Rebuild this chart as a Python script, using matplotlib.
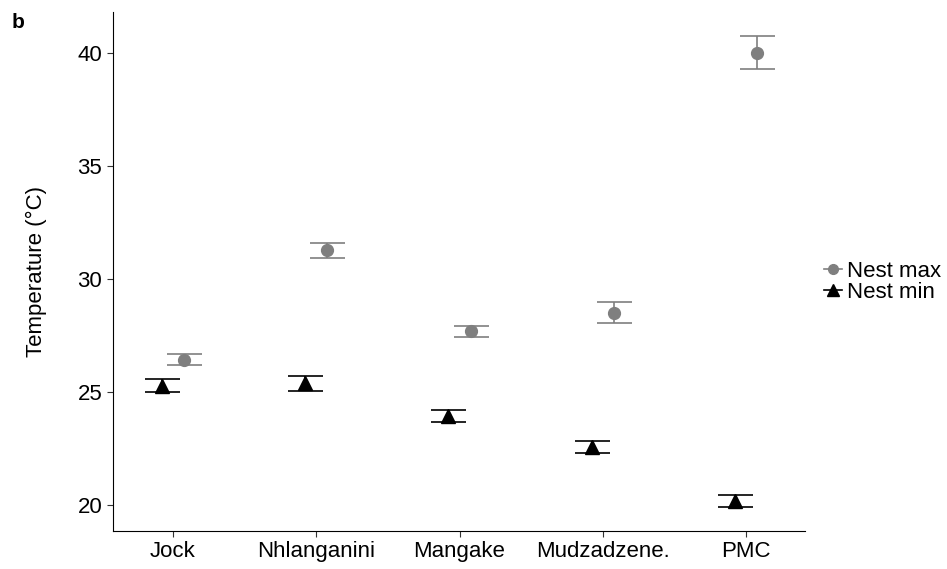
import numpy as np
import matplotlib.pyplot as plt
from matplotlib.lines import Line2D

plt.rcParams['font.family'] = ['Liberation Sans', 'DejaVu Sans']

# Data
sites = ['Jock', 'Nhlanganini', 'Mangake', 'Mudzadzene.', 'PMC']
max_mean = [26.4, 31.25, 27.67, 28.5, 40.0]
max_lo = [26.18, 30.9, 27.43, 28.04, 39.28]
max_hi = [26.67, 31.59, 27.92, 28.98, 40.72]
min_mean = [25.25, 25.38, 23.93, 22.56, 20.15]
min_lo = [25.0, 25.04, 23.66, 22.29, 19.9]
min_hi = [25.55, 25.71, 24.2, 22.83, 20.43]

def main():
    fig = plt.figure(figsize=(9.47, 5.69), dpi=100)
    ax = fig.add_axes([0.119, 0.067, 0.731, 0.912])

    x = np.arange(1, len(sites) + 1)
    dodge = 0.078
    grey = '#7f7f7f'

    mm = np.array(max_mean)
    ax.errorbar(x + dodge, mm, yerr=[mm - np.array(max_lo), np.array(max_hi) - mm],
                fmt='none', ecolor=grey, elinewidth=1.2, capsize=12.6, capthick=1.2)
    ax.plot(x + dodge, mm, 'o', color=grey, ms=8.5, zorder=3)

    mn = np.array(min_mean)
    ax.errorbar(x - dodge, mn, yerr=[mn - np.array(min_lo), np.array(min_hi) - mn],
                fmt='none', ecolor='black', elinewidth=1.2, capsize=12.6, capthick=1.2)
    ax.plot(x - dodge, mn, '^', color='black', ms=10, zorder=3)

    ax.set_xlim(0.58, 5.41)
    ax.set_ylim(18.84, 41.8)
    ax.set_xticks(x)
    ax.set_xticklabels(sites)
    ax.set_yticks([20, 25, 30, 35, 40])
    ax.tick_params(labelsize=16, length=4, color='#333333', labelcolor='black')
    for s in ['top', 'right']:
        ax.spines[s].set_visible(False)
    ax.set_ylabel('Temperature (°C)', fontsize=16, labelpad=22)

    handles = [Line2D([], [], color=grey, marker='o', ms=7, lw=1.2),
               Line2D([], [], color='black', marker='^', ms=8, lw=1.2)]
    fig.legend(handles, ['Nest max', 'Nest min'], loc='center left',
               bbox_to_anchor=(0.870, 0.505), frameon=False, fontsize=16,
               handlelength=0.8, handletextpad=0.25, labelspacing=0.0,
               borderpad=0, borderaxespad=0)

    fig.text(0.012, 0.978, 'b', fontsize=15, fontweight='bold', va='top')

    fig.savefig('out.png', dpi=100)

if __name__ == '__main__':
    main()
